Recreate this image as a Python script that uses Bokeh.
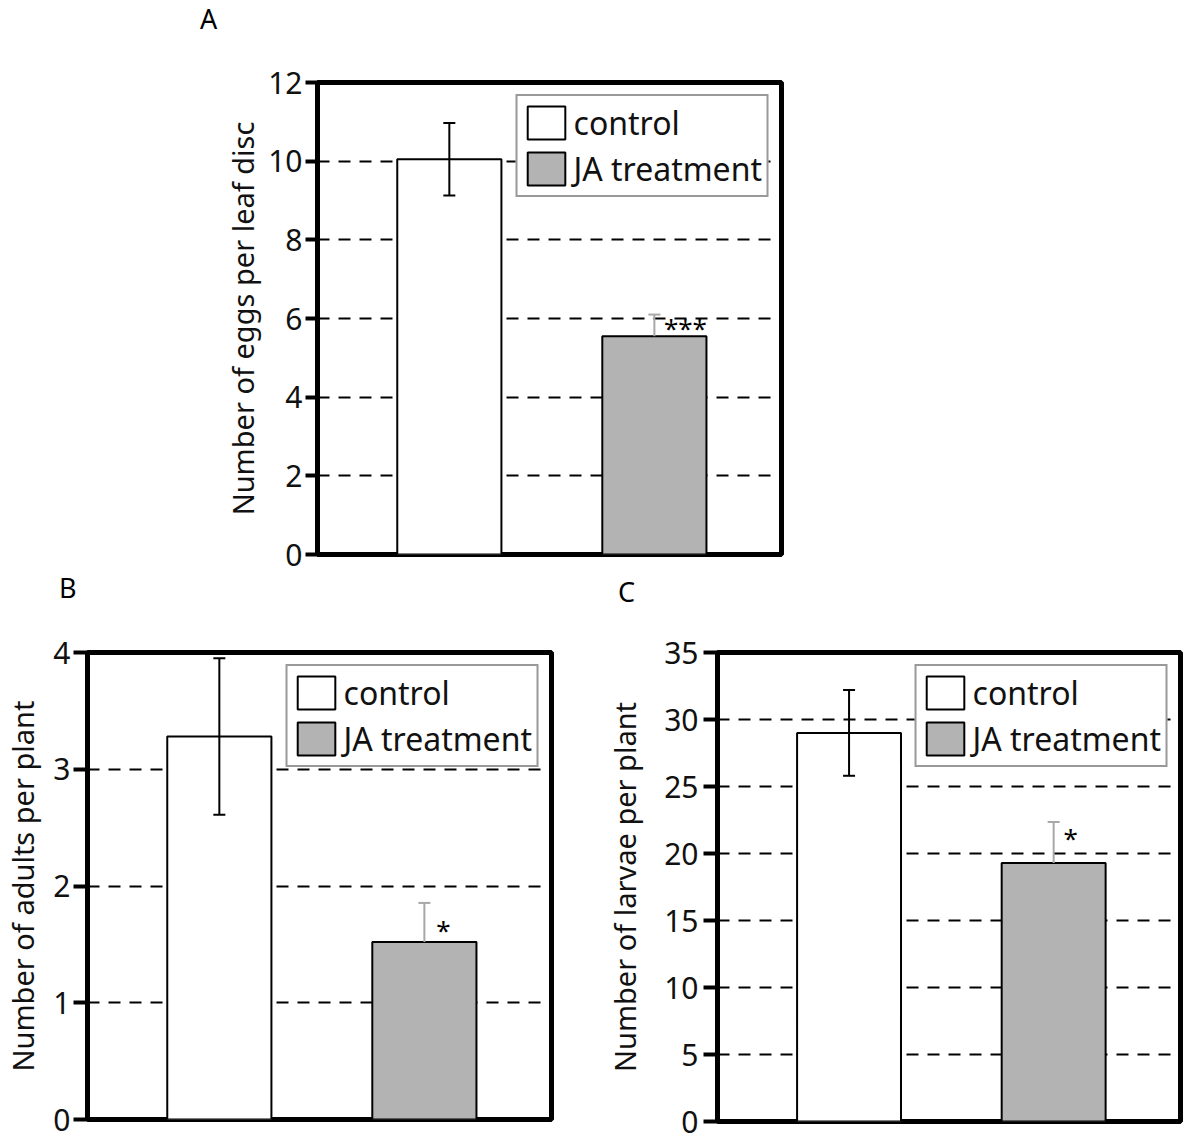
from bokeh.plotting import figure
from bokeh.models import (Range1d, ColumnDataSource, Whisker, TeeHead, Legend,
                          LegendItem, Spacer, FixedTicker, Div)
from bokeh.layouts import column, row
from bokeh.core.properties import value
from bokeh.embed import file_html
from bokeh.resources import INLINE

# ---------------- data ----------------
groups = ["control", "JA treatment"]
group_pos = [1, 2]

a_values = [10.05, 5.55]
a_errors = [0.92, 0.55]
a_ticks = [0, 2, 4, 6, 8, 10, 12]
a_ylabel = "Number of eggs per leaf disc"
a_sig = "***"

b_values = [3.28, 1.52]
b_errors = [0.67, 0.335]
b_ticks = [0, 1, 2, 3, 4]
b_ylabel = "Number of adults per plant"
b_sig = "*"

c_values = [29.0, 19.3]
c_errors = [3.2, 3.05]
c_ticks = [0, 5, 10, 15, 20, 25, 30, 35]
c_ylabel = "Number of larvae per plant"
c_sig = "*"

panel_letters = ["A", "B", "C"]

FONT = "Noto Sans"
JA_FILL = "#b3b3b3"
ERR_GRAY = "#a8a8a8"


def panel(vals, errs, ticks, ylabel, sig, geo):
    p = figure(frame_width=geo["fw"], frame_height=geo["fh"],
               min_border_left=geo["l"], min_border_right=geo["r"],
               min_border_top=geo["t"], min_border_bottom=geo["b"],
               x_range=Range1d(0.357, 2.62), y_range=Range1d(ticks[0], ticks[-1]),
               x_axis_location=None, output_backend="svg", toolbar_location=None,
               background_fill_color="white", border_fill_color="white")
    p.outline_line_color = "black"
    p.outline_line_width = 5
    p.outline_line_alpha = 1

    ax = p.yaxis[0]
    ax.ticker = FixedTicker(ticks=ticks)
    ax.axis_line_width = 5
    ax.axis_line_color = "black"
    ax.major_tick_line_width = 4
    ax.major_tick_line_color = "black"
    ax.major_tick_out = geo["tick"]
    ax.major_tick_in = 0
    ax.minor_tick_line_color = None
    ax.major_label_text_font = FONT
    ax.major_label_text_font_size = "30px"
    ax.major_label_standoff = geo["ls"]
    ax.major_label_text_color = "#111111"
    ax.axis_label = ylabel
    ax.axis_label_text_font = FONT
    ax.axis_label_text_font_size = "29px"
    ax.axis_label_text_font_style = "normal"
    ax.axis_label_text_color = "#111111"
    ax.axis_label_standoff = geo["as"]

    p.ygrid.grid_line_color = "black"
    p.ygrid.grid_line_dash = "12 9"
    p.ygrid.grid_line_width = 1.8
    p.xgrid.visible = False

    r0 = p.vbar(x=[group_pos[0]], top=[vals[0]], bottom=0, width=0.508,
                fill_color="white", line_color="black", line_width=2)
    r1 = p.vbar(x=[group_pos[1]], top=[vals[1]], bottom=0, width=0.508,
                fill_color=JA_FILL, line_color="black", line_width=2)

    s0 = ColumnDataSource(dict(x=[group_pos[0]], lo=[vals[0] - errs[0]], hi=[vals[0] + errs[0]]))
    p.add_layout(Whisker(source=s0, base="x", lower="lo", upper="hi", dimension="height",
                         line_color="black", line_width=2, level="annotation",
                         upper_head=TeeHead(size=12, line_color="black", line_width=2),
                         lower_head=TeeHead(size=12, line_color="black", line_width=2)))
    s1 = ColumnDataSource(dict(x=[group_pos[1]], lo=[vals[1]], hi=[vals[1] + errs[1]]))
    p.add_layout(Whisker(source=s1, base="x", lower="lo", upper="hi", dimension="height",
                         line_color=ERR_GRAY, line_width=2, level="annotation",
                         upper_head=TeeHead(size=12, line_color=ERR_GRAY, line_width=2),
                         lower_head=None))

    p.text(x=[group_pos[1]], y=[vals[1]], text=[sig], text_font=value(FONT),
           text_font_size="26px", text_align="center", text_baseline="middle",
           x_offset=geo["sx"], y_offset=geo["sy"], text_color="black")

    leg = Legend(items=[LegendItem(label=groups[0], renderers=[r0]),
                        LegendItem(label=groups[1], renderers=[r1])],
                 location="top_right", margin=12, padding=5, spacing=3,
                 glyph_width=47, glyph_height=41, label_standoff=4,
                 label_text_font=FONT, label_text_font_size="32px",
                 label_text_baseline="middle", label_text_color="#111111",
                 border_line_color="#333333", border_line_width=2.5,
                 background_fill_color="white", background_fill_alpha=1)
    p.add_layout(leg)
    return p


def letter_div(letter, w, h, left, top):
    html = ('<div style="position:relative; left:%dpx; top:%dpx; '
            'font-family:\'Noto Sans\'; font-size:27px; line-height:27px; '
            'color:black; margin:0; padding:0;">%s</div>') % (left, top, letter)
    return Div(text=html, width=w, height=h, margin=0)


geo_a = dict(fw=464, fh=472, l=96, r=20, t=82, b=20, tick=12, ls=3, sx=31, sy=-8)
geo_a["as"] = 3
geo_b = dict(fw=464, fh=467, l=87, r=49, t=42, b=22, tick=14, ls=3, sx=19, sy=-12)
geo_b["as"] = 8
geo_c = dict(fw=463, fh=469, l=117, r=12, t=40, b=22, tick=14, ls=5, sx=17, sy=-25)
geo_c["as"] = 17

pa = panel(a_values, a_errors, a_ticks, a_ylabel, a_sig, geo_a)
pb = panel(b_values, b_errors, b_ticks, b_ylabel, b_sig, geo_b)
pc = panel(c_values, c_errors, c_ticks, c_ylabel, c_sig, geo_c)

la = letter_div(panel_letters[0], 30, 60, 10, 5)
lb = letter_div(panel_letters[1], 30, 36, 2, 0)
lc = letter_div(panel_letters[2], 30, 36, 4, 4)

layout = column(
    row(Spacer(width=190, height=10), la, pa),
    row(Spacer(width=57, height=36), lb, Spacer(width=527, height=36), lc),
    row(pb, pc),
)

open("out.html", "w").write(file_html(layout, INLINE))
